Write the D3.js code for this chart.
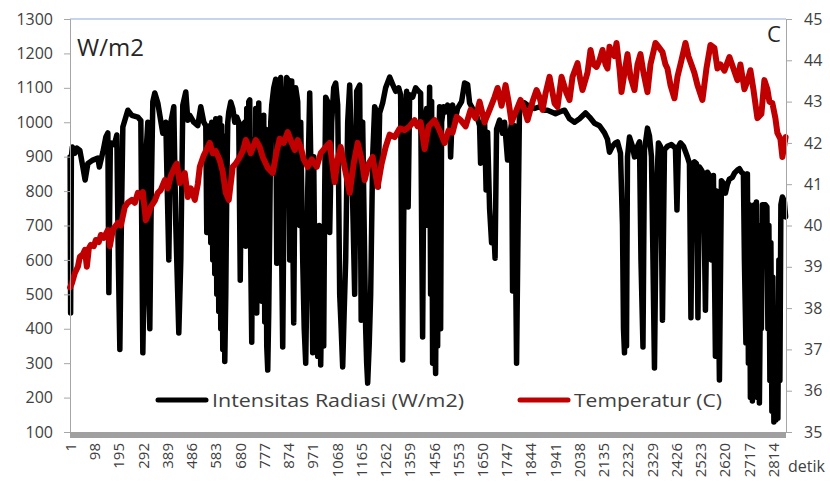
<!DOCTYPE html>
<html>
<head>
<meta charset="utf-8">
<script src="https://cdn.jsdelivr.net/npm/d3@7"></script>
<style>
  body { margin: 0; background: #fff; }
  text { font-family: "Open Sans", sans-serif; }
</style>
</head>
<body>
<div id="chart"></div>
<script>
// number of samples (detik)
const N = 2866;

// x tick labels (every 97 detik)
const xTicks = [1, 98, 195, 292, 389, 486, 583, 680, 777, 874, 971, 1068, 1165, 1262, 1359,
  1456, 1553, 1650, 1747, 1844, 1941, 2038, 2135, 2232, 2329, 2426, 2523, 2620, 2717, 2814];
const leftTicks = [100, 200, 300, 400, 500, 600, 700, 800, 900, 1000, 1100, 1200, 1300];
const rightTicks = [35, 36, 37, 38, 39, 40, 41, 42, 43, 44, 45];

// Intensitas Radiasi (W/m2): [detik, nilai]
const radiasi = [
  [1,900],[3,446],[6,900],[10,928],[20,910],[28,925],[40,918],[52,870],[61,832],[72,880],
  [92,890],[112,896],[118,870],[132,913],[144,957],[152,969],[156,505],[162,940],[178,935],[188,963],
  [194,600],[200,340],[206,700],[212,986],[232,1035],[248,1020],[272,1015],[284,1005],[292,330],[298,600],
  [304,900],[312,1000],[316,500],[320,400],[326,800],[332,1060],[340,1085],[352,1056],[372,968],[384,1000],
  [396,600],[404,1000],[416,1045],[424,700],[436,388],[444,600],[452,1050],[464,1088],[472,1006],[480,1020],
  [496,1000],[512,990],[524,1045],[536,1000],[544,990],[548,680],[552,980],[556,720],[560,990],[564,650],
  [568,1000],[572,600],[576,980],[580,560],[584,1010],[588,500],[592,990],[596,450],[600,1012],[604,400],
  [608,990],[612,340],[616,960],[620,305],[624,500],[628,800],[632,1000],[636,1030],[644,1059],[652,1040],
  [660,1000],[668,1015],[676,1000],[682,541],[688,990],[700,1000],[704,640],[708,1040],[712,700],[716,1060],
  [720,1065],[724,600],[728,361],[732,800],[736,950],[740,500],[744,1040],[748,446],[752,900],[756,1056],
  [760,560],[764,1000],[768,480],[772,600],[776,1020],[780,420],[784,980],[788,350],[792,280],[796,450],
  [800,700],[804,1000],[808,1050],[816,1100],[824,1125],[828,590],[836,1110],[844,1130],[848,600],[852,347],
  [856,700],[860,1000],[868,1130],[876,1120],[880,600],[884,1000],[888,1120],[892,700],[896,417],[900,800],
  [904,1100],[912,1060],[920,700],[924,1000],[928,800],[932,600],[938,400],[944,300],[948,500],[952,800],
  [960,1085],[964,900],[968,600],[972,330],[976,900],[980,600],[986,400],[992,320],[998,700],[1004,295],
  [1010,600],[1016,350],[1020,800],[1024,1073],[1032,1060],[1040,680],[1048,1000],[1056,1100],[1064,1114],[1072,1050],
  [1076,800],[1080,500],[1086,400],[1092,289],[1098,450],[1104,600],[1112,1000],[1120,1108],[1128,900],[1134,700],
  [1140,500],[1148,1090],[1160,1108],[1166,425],[1172,1000],[1176,800],[1180,600],[1184,400],[1188,300],[1192,242],
  [1198,350],[1204,500],[1212,900],[1220,1045],[1228,1030],[1234,812],[1240,1027],[1252,1056],[1264,1100],[1280,1131],
  [1292,1110],[1304,1090],[1316,1100],[1324,1080],[1328,600],[1332,309],[1336,700],[1340,1000],[1348,1090],[1354,754],
  [1360,1080],[1372,1073],[1384,1100],[1396,1090],[1404,1085],[1408,700],[1412,376],[1416,800],[1420,1000],[1428,1040],
  [1434,700],[1440,1102],[1444,500],[1448,1060],[1452,300],[1456,1000],[1460,400],[1464,270],[1468,800],[1472,350],
  [1476,900],[1480,1045],[1484,400],[1488,1000],[1496,1045],[1504,1030],[1512,1050],[1520,1040],[1524,899],[1532,1050],
  [1540,1000],[1552,1040],[1568,1060],[1580,1114],[1592,1110],[1600,1056],[1612,1040],[1624,1030],[1632,1010],[1640,990],
  [1644,881],[1652,1000],[1660,1000],[1666,803],[1672,970],[1680,750],[1688,650],[1696,700],[1702,605],[1708,980],
  [1720,1006],[1732,968],[1740,1000],[1752,890],[1760,960],[1768,997],[1772,510],[1776,990],[1780,990],[1784,600],
  [1788,300],[1794,700],[1800,1056],[1812,1050],[1820,1056],[1840,1045],[1860,1040],[1880,1045],[1900,1035],[1912,1035],
  [1928,1030],[1944,1025],[1960,1030],[1980,1035],[2000,1010],[2020,1000],[2040,1010],[2064,1027],[2080,1015],[2100,997],
  [2120,990],[2140,969],[2152,950],[2160,913],[2172,930],[2184,940],[2192,943],[2204,910],[2212,700],[2216,400],
  [2220,330],[2224,600],[2228,350],[2232,900],[2240,957],[2252,930],[2260,899],[2272,930],[2280,943],[2286,600],
  [2294,347],[2300,920],[2312,983],[2320,960],[2328,900],[2334,600],[2340,286],[2348,800],[2356,940],[2364,930],
  [2372,425],[2380,920],[2392,930],[2408,935],[2424,925],[2430,745],[2436,930],[2444,940],[2456,930],[2464,915],
  [2472,899],[2480,880],[2486,432],[2492,880],[2500,885],[2508,880],[2514,432],[2520,870],[2528,861],[2536,850],
  [2544,454],[2552,855],[2560,845],[2568,600],[2576,845],[2584,320],[2588,800],[2592,700],[2596,500],[2600,251],
  [2608,830],[2616,823],[2624,794],[2632,820],[2640,835],[2652,840],[2660,852],[2672,861],[2680,865],[2688,855],
  [2696,850],[2700,600],[2706,359],[2712,850],[2716,300],[2720,760],[2724,200],[2728,740],[2732,190],[2736,700],
  [2740,760],[2744,250],[2748,768],[2752,200],[2756,700],[2760,184],[2764,500],[2768,400],[2772,760],[2784,760],
  [2790,754],[2794,400],[2798,700],[2802,250],[2806,650],[2810,160],[2814,550],[2818,129],[2822,450],[2826,135],
  [2830,400],[2834,140],[2838,600],[2842,250],[2846,760],[2852,783],[2860,770],[2865,725]
];

// Temperatur (C): [detik, nilai]
const temperatur = [
  [1,38.5],[8,38.6],[20,38.85],[32,39.0],[40,39.24],[52,39.3],[60,39.41],[68,39.0],[76,39.45],[84,39.53],
  [96,39.5],[104,39.65],[116,39.6],[124,39.77],[136,39.7],[152,39.89],[160,39.5],[172,39.9],[192,40.06],[204,40.0],
  [220,40.45],[232,40.55],[248,40.62],[260,40.55],[272,40.79],[284,40.7],[292,40.81],[304,40.13],[316,40.3],[324,40.45],
  [340,40.6],[352,40.79],[364,40.86],[380,41.1],[392,40.9],[404,41.2],[420,41.42],[428,41.5],[440,41.03],[452,41.2],
  [460,41.27],[472,40.69],[484,40.9],[500,40.62],[512,41.0],[520,41.42],[536,41.7],[552,41.9],[560,42.0],[572,41.75],
  [584,41.8],[600,41.58],[612,41.3],[624,40.79],[636,40.62],[652,41.42],[664,41.5],[680,41.66],[692,41.8],[704,42.07],
  [716,41.9],[724,41.75],[744,42.07],[760,41.9],[772,41.66],[792,41.4],[812,41.27],[828,41.8],[840,42.1],[856,42.0],
  [872,42.26],[888,42.0],[900,41.83],[912,42.07],[924,41.9],[936,41.6],[952,41.42],[968,41.6],[988,41.42],[1004,41.75],
  [1024,41.9],[1040,42.0],[1060,41.05],[1072,41.6],[1084,41.9],[1100,41.4],[1120,40.79],[1136,41.5],[1152,42.0],[1168,41.6],
  [1180,41.1],[1196,41.5],[1212,41.66],[1232,40.94],[1248,41.5],[1264,41.9],[1280,42.2],[1300,42.14],[1320,42.35],[1340,42.31],
  [1360,42.4],[1380,42.55],[1392,42.4],[1404,42.5],[1420,41.85],[1436,42.4],[1460,42.55],[1480,42.3],[1500,42.0],[1516,42.3],
  [1532,42.25],[1548,42.63],[1564,42.55],[1584,42.4],[1604,42.8],[1624,42.6],[1640,43.0],[1660,42.5],[1680,42.8],[1700,43.11],
  [1712,43.33],[1728,42.9],[1744,43.4],[1756,43.0],[1768,42.5],[1788,42.8],[1804,43.04],[1820,42.8],[1832,42.55],[1852,43.0],
  [1868,43.28],[1880,43.11],[1892,42.8],[1904,43.2],[1920,43.6],[1940,42.96],[1952,42.87],[1968,43.6],[1988,43.2],[2000,43.04],
  [2012,43.6],[2032,43.93],[2044,43.5],[2052,43.28],[2072,43.7],[2084,44.25],[2096,43.9],[2108,43.84],[2120,44.0],[2132,44.25],
  [2144,43.9],[2152,43.8],[2160,44.33],[2168,44.2],[2180,44.1],[2188,44.42],[2200,43.8],[2208,43.23],[2220,43.7],[2232,44.15],
  [2244,43.6],[2260,43.28],[2272,43.9],[2284,44.15],[2296,43.7],[2312,43.23],[2324,43.9],[2344,44.42],[2360,44.3],[2372,44.2],
  [2384,43.9],[2392,43.8],[2404,43.4],[2420,43.08],[2432,43.6],[2448,44.0],[2464,44.42],[2476,44.1],[2488,43.9],[2500,43.69],
  [2512,43.4],[2532,43.04],[2548,43.8],[2564,44.37],[2580,44.3],[2592,43.8],[2604,43.9],[2620,43.75],[2640,44.08],[2656,43.8],
  [2672,43.52],[2684,43.9],[2700,43.3],[2712,43.5],[2724,43.76],[2736,43.3],[2752,42.6],[2768,42.7],[2780,43.52],[2792,43.3],
  [2800,43.0],[2812,42.96],[2824,42.6],[2832,42.24],[2844,42.1],[2852,41.66],[2865,42.14]
];

// Set up dimensions
const width = 830;
const height = 483;
const margin = { top: 19, right: 44, bottom: 51, left: 70 };
const plotW = width - margin.left - margin.right;
const plotH = height - margin.top - margin.bottom;

const svg = d3.select('#chart')
  .append('svg')
  .attr('width', width)
  .attr('height', height);

const g = svg.append('g')
  .attr('transform', `translate(${margin.left},${margin.top})`);

// Set up scales
const x = d3.scaleLinear().domain([0, N]).range([0, plotW]);
const yL = d3.scaleLinear().domain([100, 1300]).range([plotH, 0]);
const yR = d3.scaleLinear().domain([35, 45]).range([plotH, 0]);
const xPos = s => x(s - 0.5);

// top border of plot area
g.append('line')
  .attr('x1', 0).attr('x2', plotW)
  .attr('y1', 0).attr('y2', 0)
  .attr('stroke', '#8FAADC')
  .attr('stroke-width', 1.2);

// Draw lines
const lineRad = d3.line().x(d => xPos(d[0])).y(d => yL(d[1]));
const lineTemp = d3.line().x(d => xPos(d[0])).y(d => yR(d[1]));

g.append('path')
  .datum(radiasi)
  .attr('d', lineRad)
  .attr('fill', 'none')
  .attr('stroke', '#000')
  .attr('stroke-width', 5.5)
  .attr('stroke-linejoin', 'round')
  .attr('stroke-linecap', 'round');

g.append('path')
  .datum(temperatur)
  .attr('d', lineTemp)
  .attr('fill', 'none')
  .attr('stroke', '#C00000')
  .attr('stroke-width', 6)
  .attr('stroke-linejoin', 'round')
  .attr('stroke-linecap', 'round');

// Left axis
const axL = g.append('g')
  .call(d3.axisLeft(yL).tickValues(leftTicks).tickFormat(d3.format('d')).tickSize(6).tickPadding(11));
axL.selectAll('path, line').attr('stroke', '#A6A6A6');
axL.selectAll('text').style('font-size', '16px').attr('fill', '#404040');

// Right axis
const axR = g.append('g')
  .attr('transform', `translate(${plotW},0)`)
  .call(d3.axisRight(yR).tickValues(rightTicks).tickFormat(d3.format('d')).tickSize(6).tickPadding(12));
axR.selectAll('path, line').attr('stroke', '#A6A6A6');
axR.selectAll('text').style('font-size', '16px').attr('fill', '#404040');

// dense category ticks show up as a grey band under the plot
g.append('rect')
  .attr('x', 0).attr('y', plotH)
  .attr('width', plotW).attr('height', 6)
  .attr('fill', '#A0A0A0');

// Bottom axis, rotated labels
const axB = g.append('g')
  .attr('transform', `translate(0,${plotH + 6})`)
  .call(d3.axisBottom(x).tickValues(xTicks.map(s => s - 0.5)).tickFormat((d, i) => xTicks[i]).tickSize(0));
axB.select('.domain').remove();
axB.selectAll('text')
  .attr('transform', 'rotate(-90)')
  .attr('x', -5)
  .attr('y', 0)
  .attr('dy', '0.36em')
  .style('text-anchor', 'end')
  .style('font-size', '15px')
  .attr('fill', '#404040');

// unit labels
svg.append('text')
  .attr('x', 77).attr('y', 56)
  .style('font-size', '24px')
  .attr('fill', '#262626')
  .text('W/m2');

svg.append('text')
  .attr('x', 767).attr('y', 42)
  .style('font-size', '22px')
  .attr('fill', '#262626')
  .text('C');

svg.append('text')
  .attr('x', 788).attr('y', 472)
  .style('font-size', '16px')
  .attr('fill', '#404040')
  .text('detik');

// Legend
const legend = [
  { name: 'Intensitas Radiasi (W/m2)', color: '#000', x: 158, len: 252 },
  { name: 'Temperatur (C)', color: '#C00000', x: 520, len: 148 }
];
legend.forEach(l => {
  svg.append('line')
    .attr('x1', l.x).attr('x2', l.x + 48)
    .attr('y1', 400).attr('y2', 400)
    .attr('stroke', l.color)
    .attr('stroke-width', 5)
    .attr('stroke-linecap', 'round');
  svg.append('text')
    .attr('x', l.x + 54).attr('y', 407)
    .attr('textLength', l.len)
    .attr('lengthAdjust', 'spacingAndGlyphs')
    .style('font-size', '19px')
    .attr('fill', '#404040')
    .text(l.name);
});
</script>
</body>
</html>
